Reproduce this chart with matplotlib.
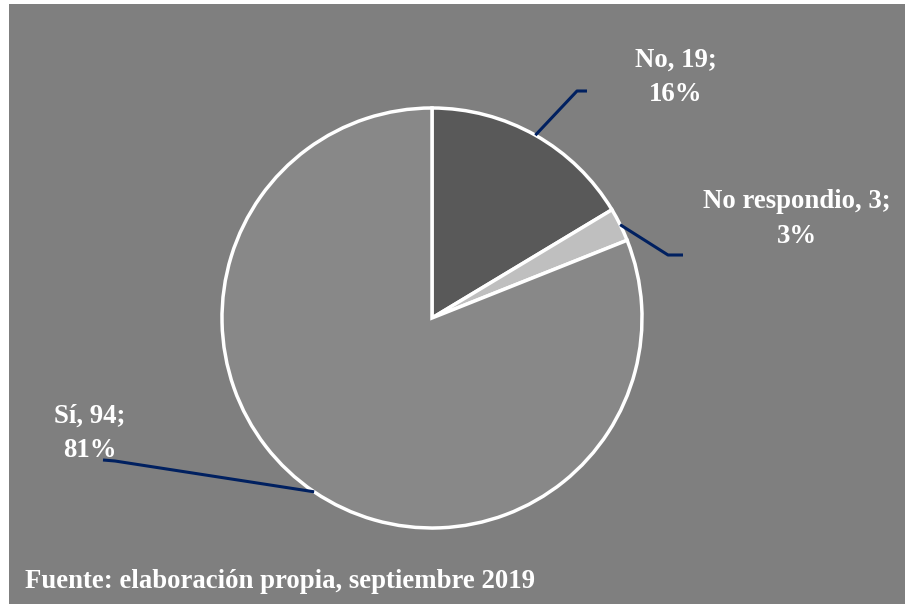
import numpy as np
import matplotlib
matplotlib.use("Agg")
import matplotlib.pyplot as plt
from matplotlib.patches import Rectangle

categories = ["No", "No respondio", "Sí"]
values = [19, 3, 94]
percent_labels = ["16%", "3%", "81%"]
colors = ["#595959", "#bfbfbf", "#888888"]
footer = "Fuente: elaboración propia, septiembre 2019"

W, H = 905, 604
fig = plt.figure(figsize=(W / 100, H / 100), dpi=100)
fig.patch.set_facecolor("white")
ax = fig.add_axes([0, 0, 1, 1])
ax.set_xlim(0, W)
ax.set_ylim(0, H)
ax.set_aspect("equal")
ax.axis("off")
ax.add_patch(Rectangle((9, 0), W - 9, H - 4, facecolor="#7f7f7f", edgecolor="none", zorder=0))

cx, cy, r = 432, H - 318, 210
wedges, _ = ax.pie(values, colors=colors, startangle=90, counterclock=False,
                   center=(cx, cy), radius=r, frame=True,
                   wedgeprops=dict(edgecolor="white", linewidth=2.5))
ax.set_xlim(0, W)
ax.set_ylim(0, H)
ax.axis("off")

font = dict(family="Liberation Serif", weight="bold", color="white", fontsize=19.3)
line_col = "#002060"

# label placement (pixel coords from top), elbow points
label_pos = [(676, 77), (797, 219), (90, 433)]
elbows = [[(577, 91), (587, 91)], [(668, 255), (683, 255)], [(115, 461), (103, 460)]]

for w, cat, v, p, lp, el in zip(wedges, categories, values, percent_labels, label_pos, elbows):
    mid = np.deg2rad((w.theta1 + w.theta2) / 2)
    sx, sy = cx + r * np.cos(mid), cy + r * np.sin(mid)
    xs = [sx] + [e[0] for e in el]
    ys = [sy] + [H - e[1] for e in el]
    ax.plot(xs, ys, color=line_col, lw=2.2, solid_capstyle="butt", zorder=1)
    ax.text(lp[0], H - lp[1], f"{cat}, {v};\n{p}", ha="center", va="center",
            linespacing=1.5, zorder=5, **font)

ax.text(25, H - 581, footer, ha="left", va="center", **font)

fig.savefig("out.png", dpi=100, facecolor=fig.get_facecolor())
